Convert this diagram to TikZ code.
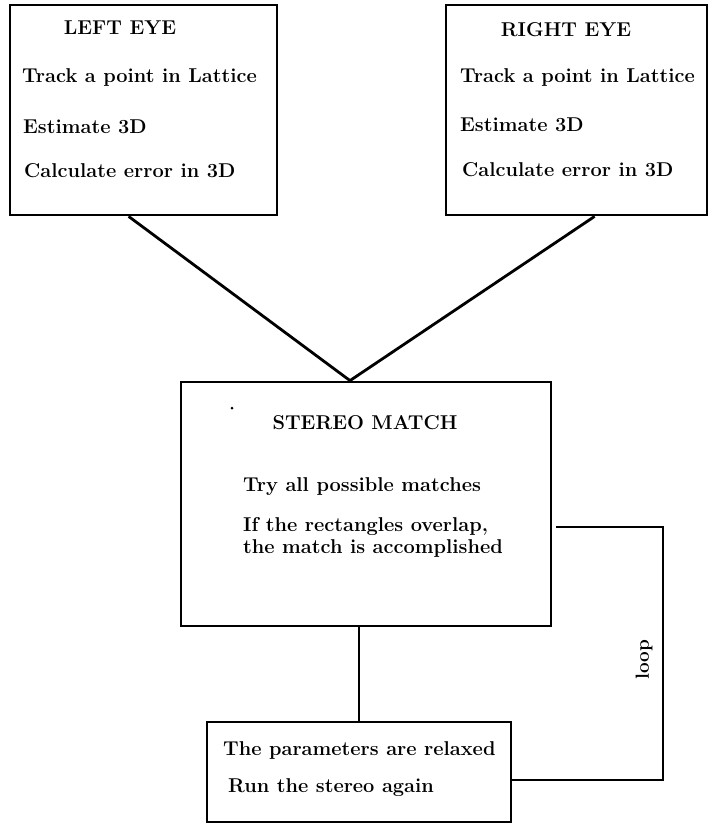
\documentclass[tikz,border=0pt]{standalone}
\usetikzlibrary{calc}
\begin{document}
\begin{tikzpicture}[x=1pt,y=-1pt,
  box/.style={draw,line width=2.8pt,rectangle,inner sep=0pt},
  conn/.style={line width=2.8pt},
  txt/.style={anchor=west,inner sep=0pt,font=\fontsize{20}{24}\selectfont\bfseries},
  head/.style={anchor=center,inner sep=0pt,font=\fontsize{20}{24}\selectfont\bfseries}]
\useasboundingbox (0,0) rectangle (713,824);
% boxes
\node[box,minimum width=267pt,minimum height=210pt] (L) at (143.5,110) {};
\node[box,minimum width=261pt,minimum height=210pt] (R) at (576.5,110) {};
\node[box,minimum width=370pt,minimum height=244pt] (S) at (366,504) {};
\node[box,minimum width=304pt,minimum height=100pt] (B) at (359,772) {};
% texts left
\node[head] (lt) at (120,28) {LEFT EYE};
\node[txt] (l1) at (22,78) {Track a point in Lattice};
\node[txt] (l2) at (23,127) {Estimate 3D};
\node[txt] (l3) at (24,171) {Calculate error in 3D};
% texts right
\node[head] (rt) at (566,30) {RIGHT EYE};
\node[txt] (r1) at (460,78) {Track a point in Lattice};
\node[txt] (r2) at (460,125) {Estimate 3D};
\node[txt] (r3) at (462,170) {Calculate error in 3D};
% stereo
\node[head] (st) at (365,423) {STEREO MATCH};
\node[txt] (s1) at (243,487) {Try all possible matches};
\node[txt] (s2) at (243,527) {If the rectangles overlap,};
\node[txt] (s3) at (243,548) {the match is accomplished};
\fill (232,408) circle (1.5pt);
% bottom
\node[txt] (b1) at (223,750) {The parameters are relaxed};
\node[txt] (b2) at (228,788) {Run the stereo again};
% connectors
\coordinate (J) at ($(S.north)+(-16,0)$);
\draw[conn] ($(L.south west)+(120,0)$) -- (J);
\draw[conn] ($(R.south west)+(150,0)$) -- (J);
\draw[conn] (B.north |- S.south) -- (B.north);
\coordinate (LC) at (663,780);
\draw[conn] ($(S.east)+(4,23)$) -| (LC) -- (B.east |- LC);
\node[font=\fontsize{19}{22}\selectfont\bfseries,rotate=90,inner sep=0pt] (lp) at (644,660) {loop};
\end{tikzpicture}
\end{document}
